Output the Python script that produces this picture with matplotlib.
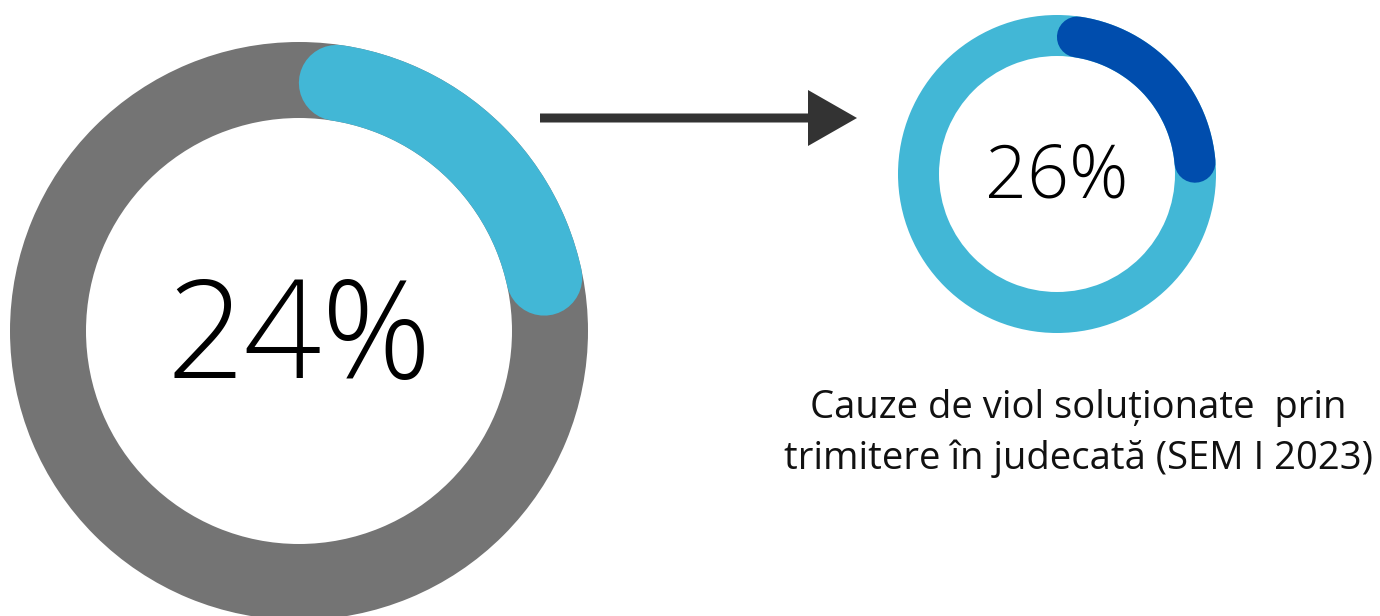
import numpy as np
import matplotlib
matplotlib.use("Agg")
import matplotlib.pyplot as plt
from matplotlib.patches import Wedge, FancyArrow

# Data
percent_values = [24, 26]
percent_labels = ["24%", "26%"]
caption_lines = ["Cauze de viol soluționate  prin", "trimitere în judecată (SEM I 2023)"]

W, H = 1380, 616
fig = plt.figure(figsize=(W / 100, H / 100), dpi=100)
ax = fig.add_axes([0, 0, 1, 1])
ax.set_xlim(0, W)
ax.set_ylim(H, 0)
ax.set_aspect("equal")
ax.axis("off")

donuts = [
    dict(cx=299, cy=331, r_out=289, width=76, bg="#747474", fg="#42B7D6", fs=98, dy=12),
    dict(cx=1057, cy=174, r_out=159, width=41, bg="#42B7D6", fg="#004DAD", fs=53, dy=5),
]


def draw_donut(ax, d, value, label):
    ax.add_patch(Wedge((d["cx"], d["cy"]), d["r_out"], 0, 360, width=d["width"],
                       facecolor=d["bg"], edgecolor="none"))
    rm = d["r_out"] - d["width"] / 2
    cap = np.degrees((d["width"] / 2) / rm)
    a0 = cap
    a1 = value / 100 * 360 - cap
    th = np.radians(np.linspace(a0, a1, 300))
    xs = d["cx"] + rm * np.sin(th)
    ys = d["cy"] - rm * np.cos(th)
    ax.plot(xs, ys, color=d["fg"], lw=d["width"] * 0.72, solid_capstyle="round")
    ax.text(d["cx"], d["cy"] + d["dy"], label, ha="center", va="center",
            fontsize=d["fs"], family=["Open Sans", "DejaVu Sans"], fontweight=300,
            color="black")


for d, v, lab in zip(donuts, percent_values, percent_labels):
    draw_donut(ax, d, v, lab)

ax.add_patch(FancyArrow(540, 118, 317, 0, width=9, head_width=56, head_length=49,
                        length_includes_head=True, color="#333333", linewidth=0))

for i, line in enumerate(caption_lines):
    ax.text(1078, 408 + i * 51, line, ha="center", va="center", fontsize=27.5,
            family=["Open Sans", "DejaVu Sans"], color="#111111")

fig.savefig("out.png", dpi=100)
